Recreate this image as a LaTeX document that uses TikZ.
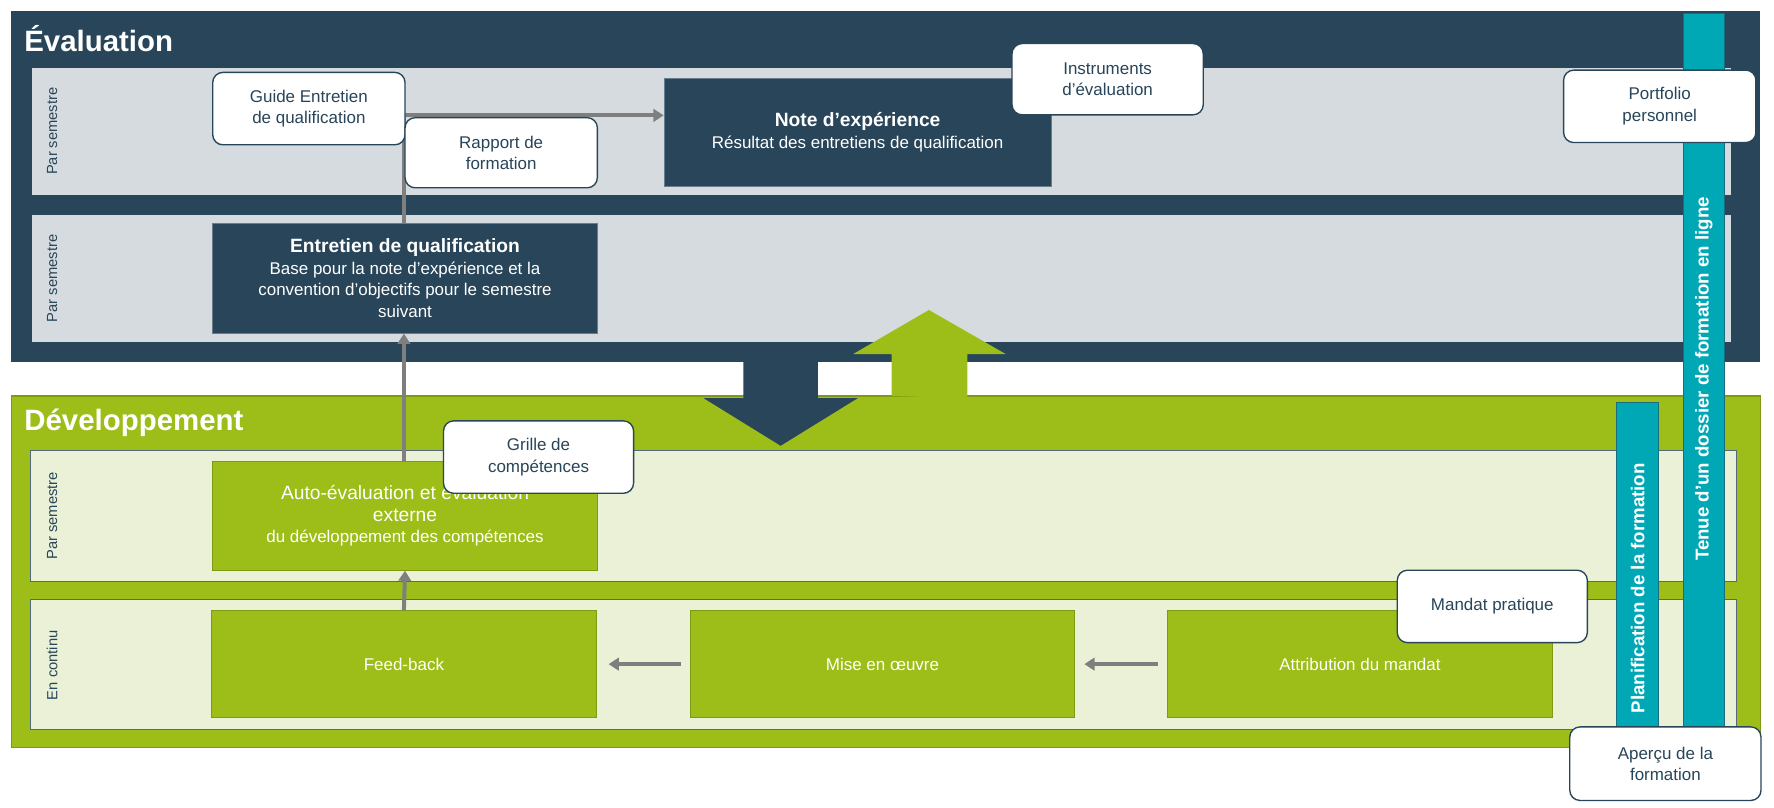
\documentclass[tikz,border=0pt]{standalone}
\usepackage{fontspec}
\setmainfont{Liberation Sans}
\usetikzlibrary{arrows.meta}
\begin{document}
\definecolor{dk}{HTML}{284559}
\definecolor{lg}{HTML}{D5DBDF}
\definecolor{gr}{HTML}{9DBE18}
\definecolor{grb}{HTML}{7E9A12}
\definecolor{lgr}{HTML}{EAF1D6}
\definecolor{tl}{HTML}{00A8B5}
\definecolor{ar}{HTML}{7F7F7F}
\begin{tikzpicture}[x=1pt,y=-1pt,
  note/.style={draw=dk,line width=1.2pt,fill=white,rounded corners=9pt,text=dk,align=center,font=\fontsize{15}{19}\selectfont},
  dkbox/.style={draw=dk!70!white,line width=0.8pt,fill=dk,text=white,align=center,font=\fontsize{15}{19}\selectfont},
  grbox/.style={draw=grb,line width=0.8pt,fill=gr,text=white,align=center,font=\fontsize{15}{19}\selectfont},
  side/.style={rotate=90,text=dk,font=\fontsize{13}{15}\selectfont},
  head/.style={anchor=west,text=white,font=\fontsize{26}{30}\selectfont\bfseries},
  bar/.style={draw=dk!60!tl,line width=0.8pt,fill=tl},
  bartext/.style={rotate=90,text=white,font=\fontsize{16.5}{18}\selectfont\bfseries},
  link/.style={draw=ar,line width=3.5pt,-{Triangle[length=9pt,width=11pt]}}]
\useasboundingbox (0,0) rectangle (1568,714);
% Evaluation
\path[fill=dk] (10,10) rectangle (1556,320);
\node[head] (evt) at (18,34) {Évaluation};
\path[fill=lg] (28,60) rectangle (1530,172);
\path[fill=lg] (28,190) rectangle (1530,302);
\node[side] (s1) at (46,116) {Par semestre};
\node[side] (s2) at (46,246) {Par semestre};
% big arrows
\fill[dk] (657,318) -- (723,318) -- (723,352) -- (758,352) -- (690,394) -- (622,352) -- (657,352) -- cycle;
% Developpement
\path[fill=gr,draw=grb,line width=1pt] (10,350) rectangle (1556,661);
\fill[gr] (788,350) -- (788,313) -- (754,313) -- (821,274) -- (889,313) -- (855,313) -- (855,352) -- cycle;
\fill[dk] (657,349) -- (723,349) -- (723,352) -- (758,352) -- (690,394) -- (622,352) -- (657,352) -- cycle;
\node[head] (dvt) at (18,374) {Développement};
\path[fill=lgr,draw=dk!80,line width=0.8pt] (27,398) rectangle (1535,514);
\path[fill=lgr,draw=dk!80,line width=0.8pt] (27,530) rectangle (1535,645);
\node[side] (s3) at (46,456) {Par semestre};
\node[side] (s4) at (46,588) {En continu};
% boxes
\node[dkbox,minimum width=342pt,minimum height=95pt] (note) at (758,117)
 {{\bfseries\fontsize{17}{21}\selectfont Note d’expérience}\\Résultat des entretiens de qualification};
\node[dkbox,minimum width=340pt,minimum height=97pt] (ent) at (358,246)
 {{\bfseries\fontsize{17}{21}\selectfont Entretien de qualification}\\Base pour la note d’expérience et la\\convention d’objectifs pour le semestre\\suivant};
\node[grbox,minimum width=340pt,minimum height=96pt] (auto) at (358,456)
 {{\fontsize{17}{21}\selectfont Auto-évaluation et évaluation}\\{\fontsize{17}{21}\selectfont externe}\\du développement des compétences};
\node[grbox,minimum width=341pt,minimum height=94pt] (fb) at (357,587) {Feed-back};
\node[grbox,minimum width=340pt,minimum height=94pt] (mo) at (780,587) {Mise en œuvre};
\node[grbox,minimum width=341pt,minimum height=94pt] (att) at (1202,587) {Attribution du mandat};
% connectors
\coordinate (bend) at (357,102);
\draw[link] (ent.north -| bend) -- (bend) -- (note.west |- bend);
\draw[link] (auto.north -| bend) -- (ent.south -| bend);
\draw[link] (fb.north) -- (auto.south);
\draw[link] ([xshift=-8pt]att.west) -- ([xshift=8pt]mo.east);
\draw[link] ([xshift=-8pt]mo.west) -- ([xshift=10pt]fb.east);
% bars
\path[bar] (1429,356) rectangle (1466,646);
\path[bar] (1488,12) rectangle (1524,646);
\node[bartext] (pl) at (1447.5,520) {Planification de la formation};
\node[bartext] (tn) at (1506,335) {Tenue d’un dossier de formation en ligne};
% notes
\node[note,minimum width=170pt,minimum height=64pt] (guide) at (273,96) {Guide Entretien\\de qualification};
\node[note,minimum width=170pt,minimum height=62pt] (rap) at (443,135) {Rapport de\\formation};
\node[note,minimum width=169pt,minimum height=63pt] (inst) at (979,70) {Instruments\\d’évaluation};
\node[note,minimum width=170pt,minimum height=64pt] (port) at (1467,94) {Portfolio\\personnel};
\node[note,minimum width=168pt,minimum height=64pt] (gril) at (476,404) {Grille de\\compétences};
\node[note,minimum width=168pt,minimum height=64pt] (mand) at (1319,536) {Mandat pratique};
\node[note,minimum width=169pt,minimum height=65pt] (aper) at (1472,675) {Aperçu de la\\formation};
\end{tikzpicture}
\end{document}
